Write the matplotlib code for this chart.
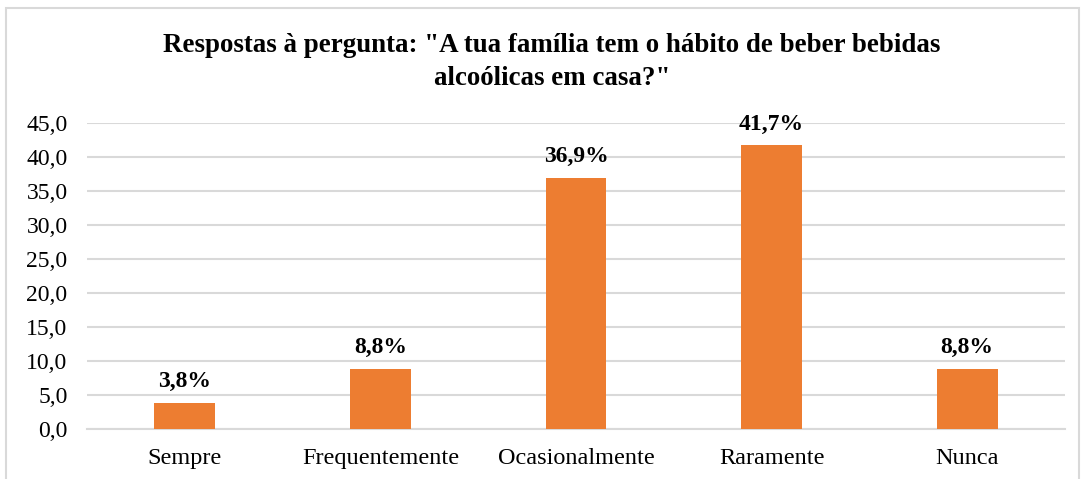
import matplotlib
matplotlib.use("Agg")
import matplotlib.pyplot as plt
from matplotlib.patches import Rectangle

# Data
categories = ["Sempre", "Frequentemente", "Ocasionalmente", "Raramente", "Nunca"]
values = [3.8, 8.8, 36.9, 41.7, 8.8]
yticks = [0, 5, 10, 15, 20, 25, 30, 35, 40, 45]
title = 'Respostas à pergunta: "A tua família tem o hábito de beber bebidas\nalcoólicas em casa?"'

plt.rcParams['font.family'] = ['Liberation Serif', 'DejaVu Serif']

fig = plt.figure(figsize=(10.85, 4.79), dpi=100)
ax = fig.add_axes([87 / 1085, 1 - 429 / 479, (1065 - 87) / 1085, (429 - 123) / 479])

# outer frame of the chart area
fig.patches.append(Rectangle((6 / 1085, -0.05), (1079 - 6) / 1085, 1 - 8 / 479 + 0.05,
                             transform=fig.transFigure, fill=False,
                             edgecolor='#d9d9d9', linewidth=1.5))

x = range(len(categories))
bars = ax.bar(x, values, width=0.31, color='#ED7D31', zorder=3)

for xi, v in zip(x, values):
    ax.text(xi, v + 1.6, f"{v:.1f}%".replace('.', ','), ha='center', va='bottom',
            fontsize=17, fontweight='bold', clip_on=False)

ax.set_xlim(-0.5, len(categories) - 0.5)
ax.set_ylim(0, 45)
ax.set_yticks(yticks)
ax.set_yticklabels([f"{t:.1f}".replace('.', ',') for t in yticks], fontsize=17)
ax.set_xticks(list(x))
ax.set_xticklabels(categories, fontsize=17.5)
ax.tick_params(axis='y', length=0, pad=14)
ax.tick_params(axis='x', length=0, pad=14)

ax.grid(axis='y', color='#d9d9d9', linewidth=1.5, zorder=0)
for s in ['top', 'right', 'left']:
    ax.spines[s].set_visible(False)
ax.spines['bottom'].set_color('#d9d9d9')
ax.spines['bottom'].set_linewidth(1.5)

fig.text(552 / 1085, 1 - 62 / 479, title, ha='center', va='center',
         fontsize=19.4, fontweight='bold', linespacing=1.45)

fig.savefig('out.png', dpi=100)
